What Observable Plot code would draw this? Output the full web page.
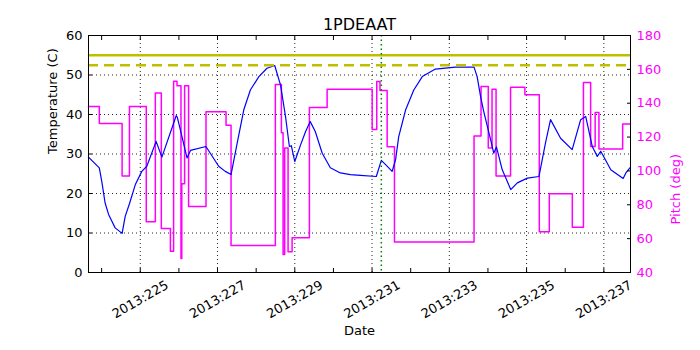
<!DOCTYPE html>
<html><head><meta charset="utf-8">
<script src="https://cdn.jsdelivr.net/npm/d3@7"></script>
<script src="https://cdn.jsdelivr.net/npm/@observablehq/plot@0.6"></script>
<style>body{margin:0;background:#fff;}</style>
</head><body><div id="chart"></div>
<script>
// Day-of-year 2013 (fractional) and temperature (C)
const tempDays = [223.66, 223.94, 224.01, 224.09, 224.18, 224.35, 224.53, 224.61, 224.72, 224.87, 225.04, 225.17, 225.41, 225.56, 225.93, 225.96, 226.21, 226.30, 226.70, 227.03, 227.20, 227.35, 227.51, 227.68, 227.85, 228.07, 228.28, 228.48, 228.63, 228.76, 228.86, 228.91, 229.00, 229.15, 229.28, 229.40, 229.53, 229.71, 229.92, 230.18, 230.44, 230.70, 231.11, 231.24, 231.35, 231.52, 231.61, 231.69, 231.87, 232.08, 232.30, 232.64, 233.16, 233.64, 233.72, 233.81, 233.89, 234.07, 234.15, 234.22, 234.37, 234.59, 234.76, 235.02, 235.32, 235.49, 235.62, 235.88, 236.18, 236.40, 236.53, 236.70, 236.83, 236.92, 237.18, 237.50, 237.57, 237.69];
const tempValues = [29.2, 26.5, 22.7, 17.6, 14.7, 11.3, 9.9, 14.2, 17.4, 22.2, 25.6, 26.9, 33.2, 29.2, 39.7, 39.3, 29.0, 30.9, 31.9, 26.9, 25.6, 24.8, 32.8, 41.2, 46.2, 49.6, 51.7, 52.4, 47.5, 39.5, 31.9, 32.1, 28.1, 32.3, 35.7, 38.2, 35.7, 30.2, 26.5, 25.2, 24.8, 24.6, 24.3, 28.4, 27.3, 25.6, 28.6, 34.4, 41.2, 46.2, 49.6, 51.5, 52.0, 52.0, 49.6, 44.5, 40.8, 33.6, 30.2, 31.8, 26.0, 21.0, 22.7, 23.9, 24.3, 32.8, 38.7, 34.0, 31.1, 38.7, 39.5, 31.9, 29.4, 30.7, 26.0, 23.8, 25.2, 26.7];

// Pitch (deg), stepwise
const pitchDays = [223.66, 223.94, 224.53, 224.72, 225.155, 225.39, 225.545, 225.78, 225.863, 225.951, 226.054, 226.075, 226.148, 226.251, 226.702, 227.22, 227.35, 228.497, 228.653, 228.697, 228.738, 228.826, 228.93, 229.378, 229.837, 231.003, 231.122, 231.205, 231.391, 231.58, 233.64, 233.821, 234.008, 234.106, 234.21, 234.585, 234.956, 235.329, 235.588, 236.184, 236.472, 236.658, 236.775, 236.873, 237.487, 237.69];
const pitchValues = [138, 128, 97, 138, 70, 146, 66, 52.6, 153, 150.3, 48.3, 92.5, 150.3, 79, 135, 127, 56, 151, 122.6, 50.7, 113.5, 52.3, 60.5, 137.5, 148.3, 124.5, 152.8, 147.5, 114.3, 58, 120.6, 149.8, 113.5, 148.3, 97, 149.5, 145, 64, 86.5, 66.8, 152.2, 114.5, 134.5, 113, 127.7, 127.7];

const xTickDays = [225, 227, 229, 231, 233, 235, 237];
const xTickLabels = ["2013:225", "2013:227", "2013:229", "2013:231", "2013:233", "2013:235", "2013:237"];
const minorDays = [224, 225, 226, 227, 228, 229, 230, 231, 232, 233, 234, 235, 236, 237];
const tempTicks = [0, 10, 20, 30, 40, 50, 60];
const tempGrid = [10, 20, 30, 40, 50];
const pitchTicks = [40, 60, 80, 100, 120, 140, 160, 180];
const limitSolid = [55];
const limitDashed = [52.5];
const markerDay = [231.24];
const xDomain = [223.66, 237.69];
const tempDomain = [0, 60];
const pitchDomain = [40, 180];

const toY = p => (p - pitchDomain[0]) * (tempDomain[1] - tempDomain[0]) / (pitchDomain[1] - pitchDomain[0]) + tempDomain[0];
const fromY = t => (t - tempDomain[0]) * (pitchDomain[1] - pitchDomain[0]) / (tempDomain[1] - tempDomain[0]) + pitchDomain[0];

const temp = tempDays.map((d, i) => ({day: d, t: tempValues[i]}));
const pitch = pitchDays.map((d, i) => ({day: d, p: pitchValues[i]}));
const xLabels = xTickDays.map((d, i) => ({day: d, label: xTickLabels[i]}));

const MAG = "#ff00ff";
const chart = Plot.plot({
  width: 700, height: 350,
  marginLeft: 88, marginRight: 70, marginTop: 35, marginBottom: 78,
  style: {fontFamily: "DejaVu Sans", fontSize: "13px", background: "white", color: "black"},
  x: {domain: xDomain},
  y: {domain: tempDomain},
  marks: [
    Plot.gridX(xTickDays, {stroke: "black", strokeOpacity: 0.85, strokeDasharray: "1,3"}),
    Plot.gridY(tempGrid, {stroke: "black", strokeOpacity: 0.85, strokeDasharray: "1,3"}),
    Plot.line(pitch, {x: "day", y: d => toY(d.p), curve: "step-after", stroke: MAG, strokeWidth: 1.5}),
    Plot.line(temp, {x: "day", y: "t", stroke: "#0000ff", strokeWidth: 1.2}),
    Plot.ruleY(limitSolid, {stroke: "#bfbf00", strokeWidth: 2.5}),
    Plot.ruleY(limitDashed, {stroke: "#bfbf00", strokeWidth: 2.5, strokeDasharray: "10,6"}),
    Plot.ruleX(markerDay, {stroke: "#008000", strokeWidth: 1.5, strokeDasharray: "1.5,3"}),
    Plot.frame({stroke: "black"}),
    Plot.axisX(minorDays, {anchor: "bottom", tickSize: 4, dy: -4, fill: "none", label: null}),
    Plot.axisX(minorDays, {anchor: "top", tickSize: 4, dy: 4, fill: "none", label: null}),
    Plot.axisY(tempTicks, {anchor: "left", tickSize: 4, dx: 4, fill: "none", label: null}),
    Plot.axisY(pitchTicks.map(toY), {anchor: "right", tickSize: 4, dx: -4, fill: "none", label: null}),
    Plot.text(xLabels, {x: "day", text: "label", frameAnchor: "bottom", dy: 27, rotate: -30, textAnchor: "middle", lineAnchor: "middle"}),
    Plot.axisY(tempTicks, {anchor: "left", tickSize: 0, tickPadding: 6, label: null}),
    Plot.axisY(pitchTicks.map(toY), {anchor: "right", tickSize: 0, tickPadding: 6, tickFormat: t => String(Math.round(fromY(t))), fill: MAG, label: null}),
    Plot.text(["1PDEAAT"], {frameAnchor: "top", dy: -17, fontSize: 16}),
    Plot.text(["Date"], {frameAnchor: "bottom", dy: 62}),
    Plot.text(["Temperature (C)"], {frameAnchor: "left", dx: -36, rotate: -90}),
    Plot.text(["Pitch (deg)"], {frameAnchor: "right", dx: 45, rotate: -90, fill: MAG})
  ]
});
document.getElementById("chart").appendChild(chart);
</script>
</body></html>
